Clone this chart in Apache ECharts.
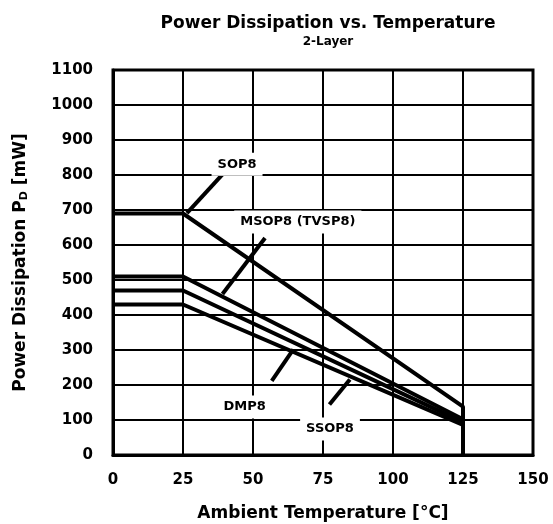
<!DOCTYPE html>
<html>
<head>
<meta charset="utf-8">
<script src="https://cdn.jsdelivr.net/npm/echarts@6/dist/echarts.min.js"></script>
<style>
  html, body { margin: 0; padding: 0; background: #fff; }
  #chart { width: 553px; height: 524px; }
</style>
</head>
<body>
<div id="chart"></div>
<script>
// derating curves: [temperature °C, power mW]
const temps = [0, 25, 125, 125];
const sop8 = [690, 690, 138, 0];
const msop8 = [510, 510, 102, 0];
const dmp8 = [470, 470, 94, 0];
const ssop8 = [430, 430, 86, 0];

// annotation labels and leader lines, in data units
const labels = [
  { name: "SOP8", at: [44.3, 831], from: [39.6, 806], to: [26.4, 691] },
  { name: "MSOP8 (TVSP8)", at: [66, 666], from: [54.3, 620], to: [39.1, 460] },
  { name: "DMP8", at: [47, 137], from: [56.7, 212], to: [64.4, 302] },
  { name: "SSOP8", at: [77.5, 74], from: [77.3, 144], to: [84.6, 216] },
];

const FONT = "DejaVu Sans, Verdana, sans-serif";

function pairs(ys) {
  return temps.map((t, i) => [t, ys[i]]);
}

function curve(name, ys) {
  return {
    name,
    type: "line",
    data: pairs(ys),
    symbol: "none",
    lineStyle: { color: "#000", width: 4 },
    z: 3,
  };
}

const chart = echarts.init(document.getElementById("chart"), null, { renderer: "canvas" });

chart.setOption({
  animation: false,
  title: {
    text: "Power Dissipation vs. Temperature",
    subtext: "2-Layer",
    left: 323,
    top: 10,
    textAlign: "center",
    itemGap: 4,
    textStyle: { fontFamily: FONT, fontWeight: "bold", fontSize: 17, color: "#000" },
    subtextStyle: { fontFamily: FONT, fontWeight: "bold", fontSize: 12, color: "#000" },
  },
  grid: {
    left: 113, right: 20, top: 70, bottom: 69,
    outerBoundsMode: "none",
    containLabel: false,
    show: true, borderColor: "#000", borderWidth: 3,
  },
  xAxis: {
    type: "value",
    min: 0, max: 150, interval: 25,
    name: "Ambient Temperature [°C]",
    nameLocation: "middle",
    nameGap: 50,
    nameTextStyle: { fontFamily: FONT, fontWeight: "bold", fontSize: 17, color: "#000" },
    axisLine: { show: true, lineStyle: { color: "#000", width: 3 } },
    axisTick: { show: false },
    axisLabel: { fontFamily: FONT, fontWeight: "bold", fontSize: 15, color: "#000", margin: 18 },
    splitLine: { show: true, lineStyle: { color: "#000", width: 2 } },
  },
  yAxis: {
    type: "value",
    min: 0, max: 1100, interval: 100,
    name: "{a|Power Dissipation P}{s|D}{a| [mW]}",
    nameLocation: "middle",
    nameGap: 83,
    nameTextStyle: {
      rich: {
        a: { fontFamily: FONT, fontWeight: "bold", fontSize: 17, color: "#000" },
        s: { fontFamily: FONT, fontWeight: "bold", fontSize: 11, color: "#000", padding: [7, 0, 0, 0] },
      },
    },
    axisLine: { show: true, lineStyle: { color: "#000", width: 3 } },
    axisTick: { show: false },
    axisLabel: {
      fontFamily: FONT, fontWeight: "bold", fontSize: 15, color: "#000", margin: 20,
      formatter: (v) => String(v),
    },
    splitLine: { show: true, lineStyle: { color: "#000", width: 2 } },
  },
  series: [
    curve("SOP8", sop8),
    curve("MSOP8 (TVSP8)", msop8),
    curve("DMP8", dmp8),
    curve("SSOP8", ssop8),
    {
      type: "scatter",
      name: "labels",
      data: labels.map((l) => ({ value: l.at, name: l.name })),
      symbolSize: 0,
      itemStyle: { opacity: 1 },
      z: 6,
      label: {
        show: true,
        position: "inside",
        formatter: (p) => p.name,
        fontFamily: FONT,
        fontWeight: "bold",
        fontSize: 13,
        color: "#000",
        backgroundColor: "#fff",
        padding: [5, 6],
      },
      markLine: {
        silent: true,
        symbol: "none",
        animation: false,
        label: { show: false },
        lineStyle: { color: "#000", width: 4, type: "solid", opacity: 1 },
        data: labels.map((l) => [{ coord: l.from }, { coord: l.to }]),
      },
    },
  ],
});
</script>
</body>
</html>
